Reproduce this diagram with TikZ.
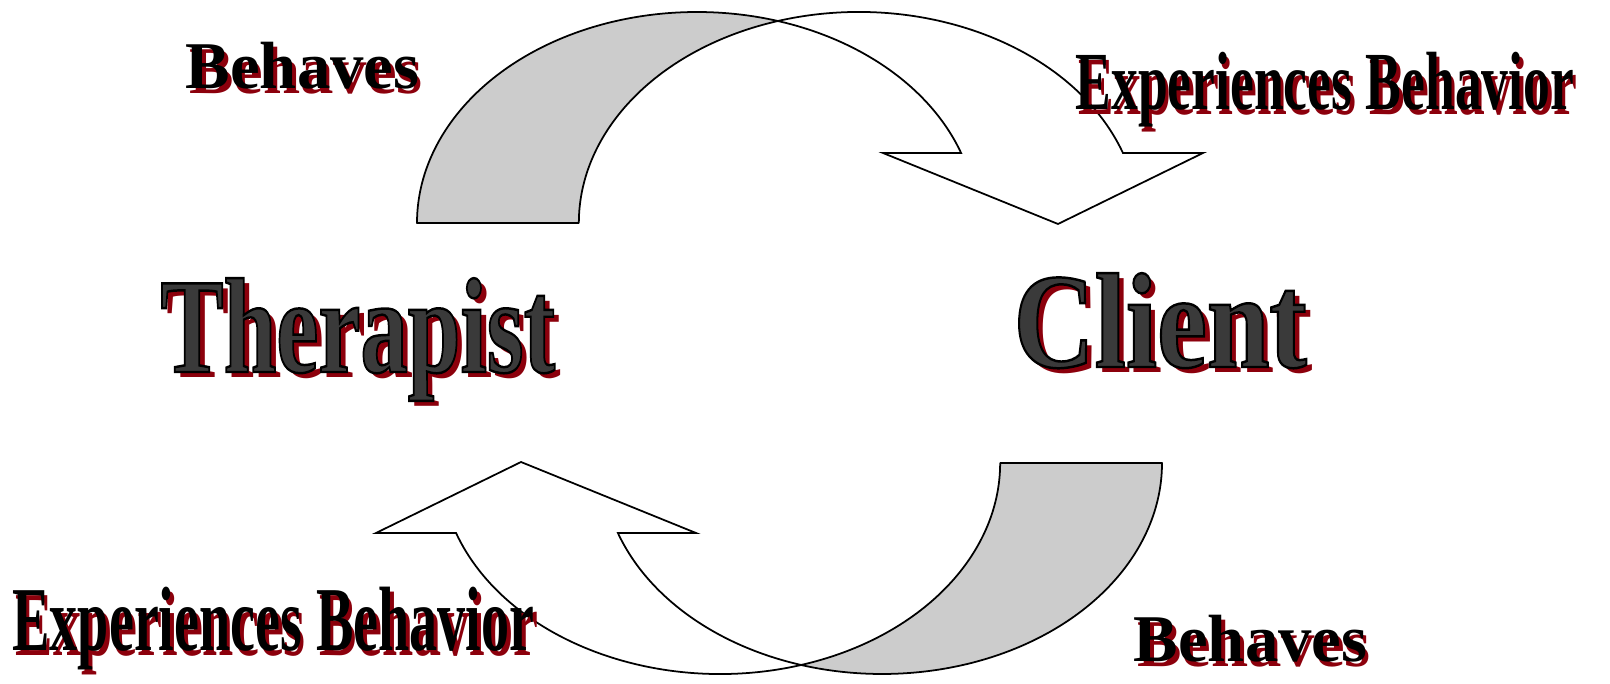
\documentclass[tikz,border=0pt]{standalone}
\usepackage{fontspec}
\setmainfont{Liberation Serif}
\definecolor{backgray}{RGB}{204,204,204}
\definecolor{shred}{RGB}{140,0,12}
\definecolor{txtgray}{RGB}{58,58,58}
\tikzset{
  back/.style ={draw=black, fill=backgray, line width=0.5pt, line join=round},
  front/.style={draw=black, fill=white, line width=0.5pt},
  word/.style ={inner sep=0pt, anchor=base west},
  lbl/.style  ={word, font=\fontsize{19}{20}\selectfont\bfseries},
  exl/.style  ={word, font=\fontsize{23.5}{24}\selectfont\bfseries},
  exb/.style  ={word, font=\fontsize{26}{27}\selectfont\bfseries},
  big/.style  ={word, font=\fontsize{38.5}{40}\selectfont\bfseries},
  shd/.style  ={text=shred},
}
% filled text with a thin black outline
\newcommand{\outl}[1]{\special{pdf:literal direct 2 Tr 0 G 0.7 w}#1\special{pdf:literal direct 0 Tr}}

\begin{document}
\begin{tikzpicture}
\useasboundingbox (0,0) rectangle (16.10,6.84);
%% ---------- curved arrows (bottom one is the top one turned round) ----------
\foreach \r in {0,180}{
\begin{scope}[rotate around={\r:(7.895,3.41)}]
\draw[back] (4.17,4.61) arc[start angle=180, end angle=73.2, x radius=2.80, y radius=2.11]
  arc[start angle=106.8, end angle=180, x radius=2.80, y radius=2.11] -- cycle;
\draw[front] (7.779,6.630) arc[start angle=106.8, end angle=19.38, x radius=2.80, y radius=2.11]
  -- (12.03,5.31) -- (10.58,4.60) -- (8.83,5.31) -- (9.611,5.31)
  arc[start angle=19.38, end angle=73.2, x radius=2.80, y radius=2.11] -- cycle;
\end{scope}
}
%% ---------- small labels ----------
\node[lbl, shd] (behTs) at (1.885,5.905) {Behaves};
\node[lbl] (behT) at (1.85,5.95) {Behaves};
\node[exl, shd, xscale=0.649] (expCs) at (10.785,5.695) {Experiences Behavior};
\node[exl, xscale=0.649] (expC) at (10.75,5.74) {Experiences Behavior};
\node[exb, shd, xscale=0.614] (expTs) at (0.155,0.285) {Experiences Behavior};
\node[exb, xscale=0.614] (expT) at (0.12,0.33) {Experiences Behavior};
\node[lbl, shd] (behCs) at (11.365,0.175) {Behaves};
\node[lbl] (behC) at (11.33,0.22) {Behaves};
%% ---------- the two parties ----------
\node[big, shd, xscale=0.70] (therS) at (1.66,3.06) {Therapist};
\node[big, text=txtgray, xscale=0.70] (ther) at (1.60,3.12) {\outl{Therapist}};
\node[big, shd, xscale=0.83] (cliS) at (10.19,3.11) {Client};
\node[big, text=txtgray, xscale=0.83] (cli) at (10.13,3.17) {\outl{Client}};
\end{tikzpicture}
\end{document}
